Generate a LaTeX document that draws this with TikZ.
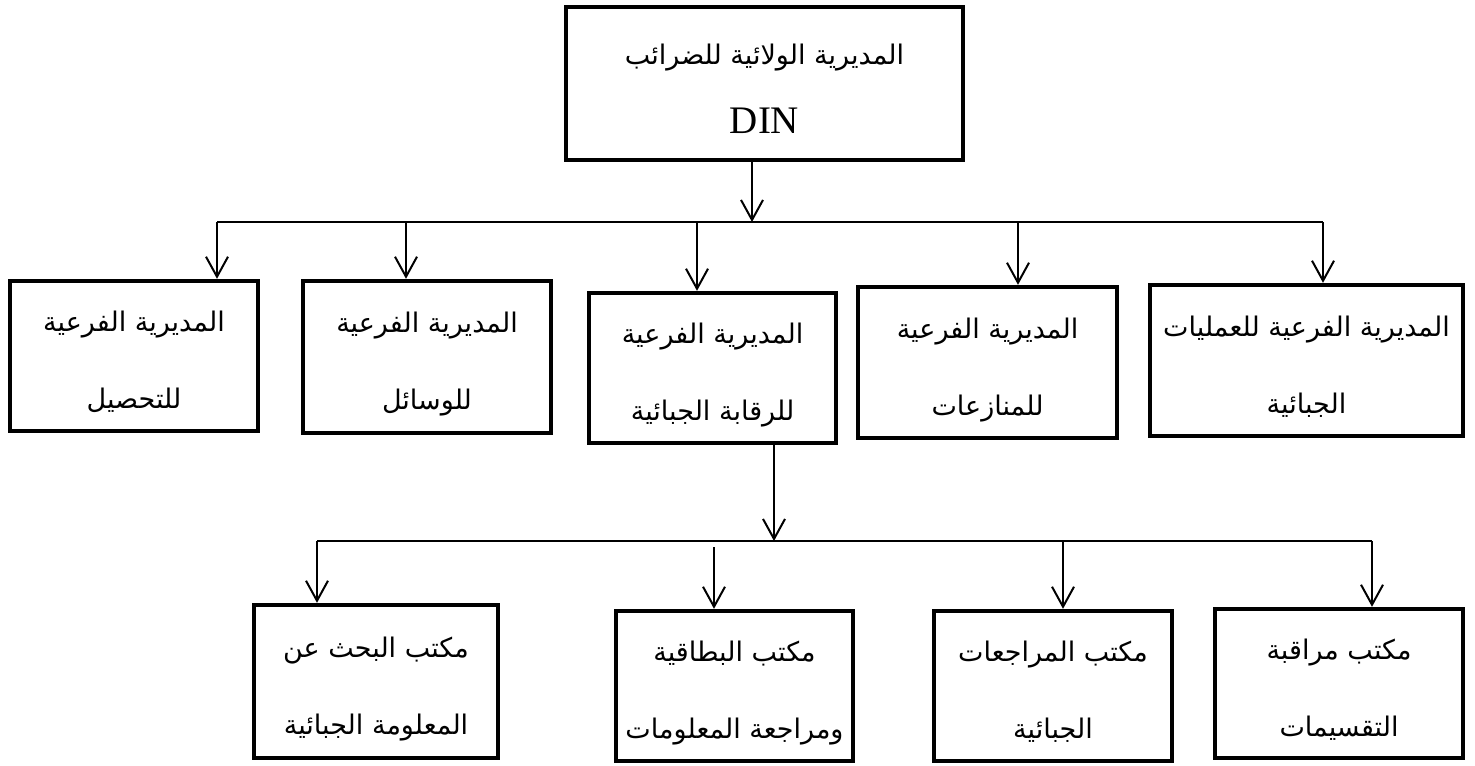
\documentclass[tikz,border=0pt]{standalone}
\usepackage{fontspec}
\setmainfont{Liberation Serif}
\newfontfamily\arabicfont[Script=Arabic]{DejaVu Sans}
\TeXXeTstate=1
\usetikzlibrary{arrows.meta}

% one right-to-left line of Arabic text
\newcommand\arline[1]{{\arabicfont\beginR #1\endR}}
% two centred lines, lowered a little inside their box
\newcommand\twolines[3][-3pt]{\raisebox{#1}[0pt][0pt]{%
  \begin{tabular}{@{}c@{}}#2\\#3\end{tabular}}}

\begin{document}
\begin{tikzpicture}[x=0.5pt,y=-0.5pt,
  unitbox/.style={draw, line width=2.2pt, rectangle, inner sep=0pt,
    font=\fontsize{13.5}{38.5}\selectfont},
  link/.style={line width=1pt},
  drop/.style={link, -{Straight Barb[length=10pt,width=11pt,line width=1pt]}}
]
\useasboundingbox (0,0) rectangle (1475,765);

% head office
\node[unitbox, minimum width=198.5pt, minimum height=76.5pt] (top) at (764.5,83.5)
  {\raisebox{-3.7pt}[0pt][0pt]{\begin{tabular}{@{}c@{}}%
    \arline{المديرية الولائية للضرائب}\\[-4pt]%
    {\fontsize{19.5}{24}\selectfont DIN}\end{tabular}}};

% sub-directorates
\node[unitbox, minimum width=124pt, minimum height=75pt] (b1) at (134,356)
  {\twolines{\arline{المديرية الفرعية}}{\arline{للتحصيل}}};
\node[unitbox, minimum width=124pt, minimum height=76pt] (b2) at (427,357)
  {\twolines{\arline{المديرية الفرعية}}{\arline{للوسائل}}};
\node[unitbox, minimum width=123.5pt, minimum height=75pt] (b3) at (712.5,368)
  {\twolines{\arline{المديرية الفرعية}}{\arline{للرقابة الجبائية}}};
\node[unitbox, minimum width=129.5pt, minimum height=75.5pt] (b4) at (987.5,362.5)
  {\twolines{\arline{المديرية الفرعية}}{\arline{للمنازعات}}};
\node[unitbox, minimum width=156.5pt, minimum height=75.5pt] (b5) at (1306.5,360.5)
  {\twolines{\arline{المديرية الفرعية للعمليات}}{\arline{الجبائية}}};

% offices under the tax control sub-directorate
\node[unitbox, minimum width=122pt, minimum height=76.5pt] (c1) at (376,681.5)
  {\twolines{\arline{مكتب البحث عن}}{\arline{المعلومة الجبائية}}};
\node[unitbox, minimum width=118.5pt, minimum height=75pt] (c2) at (734.5,686)
  {\twolines{\arline{مكتب البطاقية}}{\arline{ومراجعة المعلومات}}};
\node[unitbox, minimum width=119pt, minimum height=75pt] (c3) at (1053,686)
  {\twolines{\arline{مكتب المراجعات}}{\arline{الجبائية}}};
\node[unitbox, minimum width=124pt, minimum height=74.5pt] (c4) at (1339,683.5)
  {\twolines{\arline{مكتب مراقبة}}{\arline{التقسيمات}}};

% upper distribution bar
\coordinate (d0) at (752,222);
\coordinate (d1) at (217,222);
\coordinate (d2) at (406,222);
\coordinate (d3) at (697,222);
\coordinate (d4) at (1018,222);
\coordinate (d5) at (1323,222);
\draw[drop] (top.south -| d0) -- (d0);
\draw[link] (d1) -- (d5);
\draw[drop] (d1) -- (d1 |- b1.north);
\draw[drop] (d2) -- (d2 |- b2.north);
\draw[drop] (d3) -- (d3 |- b3.north);
\draw[drop] (d4) -- (d4 |- b4.north);
\draw[drop] (d5) -- (d5 |- b5.north);

% lower distribution bar
\coordinate (e0) at (774,541);
\coordinate (e1) at (317,541);
\coordinate (e2) at (714,547);
\coordinate (e3) at (1063,541);
\coordinate (e4) at (1372,541);
\draw[drop] (b3.south -| e0) -- (e0);
\draw[link] (e1) -- (e4);
\draw[drop] (e1) -- (e1 |- c1.north);
\draw[drop] (e2) -- (e2 |- c2.north);
\draw[drop] (e3) -- (e3 |- c3.north);
\draw[drop] (e4) -- (e4 |- c4.north);
\end{tikzpicture}
\end{document}
